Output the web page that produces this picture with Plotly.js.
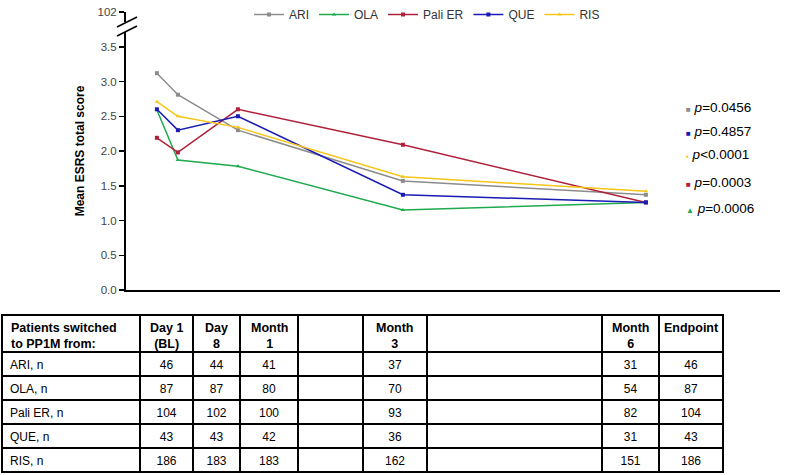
<!DOCTYPE html>
<html>
<head>
<meta charset="utf-8">
<script src="https://cdn.plot.ly/plotly-3.0.1.min.js"></script>
<style>
  body { margin: 0; background: #fff; }
  #chart { width: 787px; height: 475px; }
</style>
</head>
<body>
<div id="chart"></div>
<script>
// visit days (Day 1, Day 8, Month 1, Month 3, Month 6)
const days = [1, 8, 28, 83, 164];

const ari = [3.12, 2.81, 2.30, 1.57, 1.37];
const ola = [2.59, 1.87, 1.78, 1.15, 1.26];
const pali = [2.19, 1.98, 2.60, 2.09, 1.26];
const que = [2.60, 2.30, 2.50, 1.37, 1.26];
const ris = [2.71, 2.50, 2.34, 1.63, 1.42];

const seriesNames = ["ARI", "OLA", "Pali ER", "QUE", "RIS"];
const seriesColors = ["#8c8c8c", "#1faa4f", "#b0203a", "#1a1ab4", "#f5c518"];
const seriesSymbols = ["square", "triangle-up", "square", "square", "triangle-up"];

// p-value legend (order as in the picture)
const pTexts = ["=0.0456", "=0.4857", "<0.0001", "=0.0003", "=0.0006"];
const pColors = ["#8c8c8c", "#1a1ab4", "#f5c518", "#b0203a", "#1faa4f"];
const pMarks = ["■", "■", "▪", "■", "▲"];
const pY = [107, 131, 154, 182, 208];

// table
const headers = ["Patients switched<br>to PP1M from:", "Day 1<br>(BL)", "Day<br>8",
  "Month<br>1", "", "Month<br>3", "", "Month<br>6", "Endpoint"];
const colWidths = [138, 53, 47, 58, 65, 64, 175, 57, 64];
const rowLabels = ["ARI, n", "OLA, n", "Pali ER, n", "QUE, n", "RIS, n"];
const nDay1 = [46, 87, 104, 43, 186];
const nDay8 = [44, 87, 102, 43, 183];
const nMonth1 = [41, 80, 100, 42, 183];
const nMonth3 = [37, 70, 93, 36, 162];
const nMonth6 = [31, 54, 82, 31, 151];
const nEndpoint = [46, 87, 104, 43, 186];
const blank = ["", "", "", "", ""];

const yTicks = [0, 0.5, 1, 1.5, 2, 2.5, 3, 3.5, 4];
const yTickText = ["0.0", "0.5", "1.0", "1.5", "2.0", "2.5", "3.0", "3.5", "102"];

const W = 787, H = 475;
const font = "Arial, Liberation Sans, sans-serif";
const tableLeft = 2, tableTop = 315;

const allY = [ari, ola, pali, que, ris];
const data = allY.map((ys, i) => ({
  x: days, y: ys, name: seriesNames[i], type: "scatter", mode: "lines+markers",
  line: { color: seriesColors[i], width: 1.5 },
  marker: { color: seriesColors[i], symbol: seriesSymbols[i], size: 4 },
  xaxis: "x", yaxis: "y"
}));

const totalW = colWidths.reduce((a, b) => a + b, 0);
data.push({
  type: "table",
  domain: { x: [tableLeft / W, (tableLeft + totalW) / W], y: [0, (H - tableTop) / H] },
  columnwidth: colWidths,
  header: {
    values: headers.map(() => ""), height: 37,
    line: { color: "#000", width: 1.2 }, fill: { color: "#fff" },
    font: { family: font, size: 12, color: "#000" }
  },
  cells: {
    values: [rowLabels, nDay1, nDay8, nMonth1, blank, nMonth3, blank, nMonth6, nEndpoint],
    height: 24,
    align: ["left", "center", "center", "center", "center", "center", "center", "center", "center"],
    line: { color: "#000", width: 1.2 }, fill: { color: "#fff" },
    font: { family: font, size: 12, color: "#000" }
  }
});

const annotations = pTexts.map((t, i) => ({
  xref: "paper", yref: "paper", x: 684 / W, y: 1 - pY[i] / H,
  xanchor: "left", yanchor: "middle", showarrow: false,
  text: '<span style="color:' + pColors[i] + ';font-size:8px">' + pMarks[i] + '</span> <i>p</i>' + t,
  font: { family: font, size: 13.5, color: "#000" }
}));

// header labels of the table
let edge = tableLeft;
headers.forEach((h, i) => {
  const left = i === 0;
  if (h) {
    annotations.push({
      xref: "paper", yref: "paper",
      x: (left ? edge + 7 : edge + colWidths[i] / 2) / W, y: 1 - (tableTop + 4) / H,
      xanchor: left ? "left" : "center", yanchor: "top", align: left ? "left" : "center",
      showarrow: false, text: h,
      font: { family: font, size: 12.5, color: "#000", weight: "bold" }
    });
  }
  edge += colWidths[i];
});

const layout = {
  width: W, height: H,
  margin: { l: 0, r: 0, t: 0, b: 0 },
  paper_bgcolor: "#fff", plot_bgcolor: "#fff",
  font: { family: font, size: 11, color: "#333" },
  showlegend: true,
  legend: {
    orientation: "h", x: 427 / W, xanchor: "center", y: 1 - 0 / H, yanchor: "top",
    font: { family: font, size: 12, color: "#333" }, itemwidth: 30, tracegroupgap: 0
  },
  xaxis: {
    domain: [126 / W, 780 / W], range: [-9.3, 208.7],
    showgrid: false, zeroline: false, showticklabels: false, ticks: "",
    showline: true, linecolor: "#000", linewidth: 2
  },
  yaxis: {
    domain: [(H - 290) / H, (H - 12) / H], range: [0, 4],
    tickvals: yTicks, ticktext: yTickText,
    ticks: "outside", ticklen: 5, tickwidth: 1.5, tickcolor: "#000",
    showgrid: false, zeroline: false,
    showline: true, linecolor: "#000", linewidth: 2,
    tickfont: { family: font, size: 11.5, color: "#444" },
    title: { text: "Mean ESRS total score", font: { family: font, size: 12, color: "#000", weight: "bold" }, standoff: 10 }
  },
  annotations: annotations,
  shapes: [
    { type: "rect", xref: "paper", yref: "paper", x0: 122 / W, x1: 131 / W, y0: 1 - 32 / H, y1: 1 - 22 / H,
      fillcolor: "#fff", line: { width: 0 } },
    { type: "line", xref: "paper", yref: "paper", x0: 117 / W, y0: 1 - 27 / H, x1: 137 / W, y1: 1 - 17 / H,
      line: { color: "#000", width: 1.5 } },
    { type: "line", xref: "paper", yref: "paper", x0: 117 / W, y0: 1 - 36 / H, x1: 137 / W, y1: 1 - 26 / H,
      line: { color: "#000", width: 1.5 } }
  ]
};

Plotly.newPlot("chart", data, layout, { displayModeBar: false, staticPlot: true });
</script>
</body>
</html>
